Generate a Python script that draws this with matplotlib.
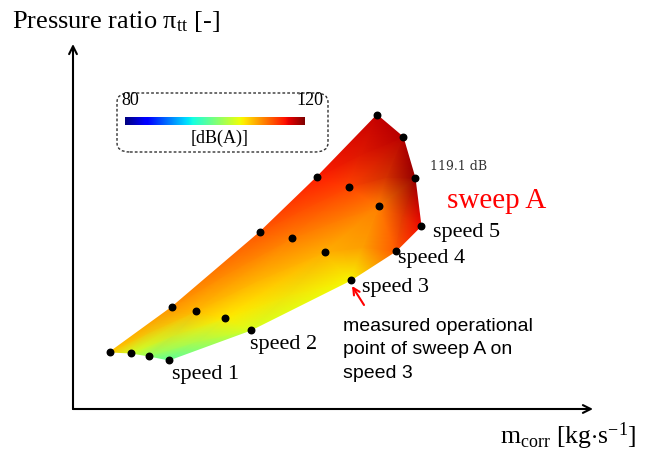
import numpy as np
import matplotlib
matplotlib.use('Agg')
from matplotlib import pyplot as plt
from matplotlib.patches import FancyBboxPatch

plt.rcParams['font.family'] = 'Liberation Serif'
plt.rcParams['mathtext.fontset'] = 'custom'
plt.rcParams['mathtext.rm'] = 'Liberation Serif'
plt.rcParams['mathtext.it'] = 'Liberation Serif:italic'

# operating points of sweep A (rows = speed lines 1..5, columns = points along the line)
m_corr = [
    [0.37, 0.58, 0.76, 0.96],
    [0.99, 1.23, 1.52, 1.78],
    [1.87, 2.19, 2.52, 2.78],
    [2.44, 2.76, 3.06, 3.23],
    [3.04, 3.30, 3.42, 3.48],
]
pi_tt = [
    [0.57, 0.56, 0.53, 0.49],
    [1.02, 0.98, 0.91, 0.79],
    [1.77, 1.71, 1.57, 1.29],
    [2.32, 2.22, 2.03, 1.58],
    [2.94, 2.72, 2.31, 1.83],
]
noise_db = [
    [108.0, 104.0, 101.0, 98.5],
    [110.0, 108.5, 106.5, 104.5],
    [112.5, 111.0, 109.0, 106.0],
    [115.0, 113.5, 111.0, 112.5],
    [117.5, 118.0, 119.1, 116.0],
]
speed_labels = ['speed 1', 'speed 2', 'speed 3', 'speed 4', 'speed 5']
speed_label_pos = [(0.99, 0.35), (1.77, 0.65), (2.89, 1.22), (3.25, 1.52), (3.60, 1.77)]

X = np.array(m_corr)
Y = np.array(pi_tt)
Z = np.array(noise_db)

fig = plt.figure(figsize=(6.46, 4.52), dpi=100)
ax = fig.add_axes([73 / 646, 42 / 452, 520 / 646, 365 / 452])
ax.set_xlim(0, 5.2)
ax.set_ylim(0, 3.65)
for s in ax.spines.values():
    s.set_visible(False)
ax.set_xticks([])
ax.set_yticks([])
ax.patch.set_alpha(0)

ax.pcolormesh(X, Y, Z, shading='gouraud', cmap='jet', vmin=80, vmax=120)
ax.scatter(X.ravel(), Y.ravel(), s=22, color='black', zorder=3)

# axes with arrows
ax.annotate('', xy=(0, 1), xytext=(0, 0), xycoords='axes fraction',
            arrowprops=dict(arrowstyle='->', lw=1.5, color='black', mutation_scale=14,
                            shrinkA=0, shrinkB=0),
            annotation_clip=False)
ax.annotate('', xy=(1, 0), xytext=(0, 0), xycoords='axes fraction',
            arrowprops=dict(arrowstyle='->', lw=1.5, color='black', mutation_scale=14,
                            shrinkA=0, shrinkB=0),
            annotation_clip=False)

for lab, (lx, ly) in zip(speed_labels, speed_label_pos):
    ax.text(lx, ly, lab, fontsize=16, va='center', ha='left')

ax.text(3.74, 2.09, 'sweep A', fontsize=21, color='red', va='center', ha='left')
ax.text(3.57, 2.43, '119.1 dB', fontsize=9, family='DejaVu Serif', color='#333333',
        va='center', ha='left')

ax.annotate('', xy=(2.79, 1.23), xytext=(2.91, 1.04),
            arrowprops=dict(arrowstyle='->', color='red', lw=1.5, mutation_scale=12,
                            shrinkA=0, shrinkB=0))
ax.text(2.70, 0.92, 'measured operational\npoint of sweep A on\nspeed 3', fontsize=14,
        family='Liberation Sans', va='top', ha='left', linespacing=1.5)

fig.text(12 / 646, 1 - 22 / 452, r'Pressure ratio π$_{\mathrm{tt}}$ [-]', fontsize=19,
         va='center', ha='left')
fig.text(500 / 646, 1 - 436 / 452, r'$\mathrm{m}_{\mathrm{corr}}$ [kg$\cdot$s$^{-1}$]',
         fontsize=18.5, va='center', ha='left')

# colour bar legend
cax = fig.add_axes([125 / 646, 1 - 126 / 452, 180 / 646, 8 / 452])
cax.imshow(np.linspace(0, 1, 256)[None, :], aspect='auto', cmap='jet')
cax.set_xticks([])
cax.set_yticks([])
for s in cax.spines.values():
    s.set_visible(False)
fig.text(121 / 646, 1 - 101 / 452, '80', fontsize=13, va='center', ha='left')
fig.text(323 / 646, 1 - 101 / 452, '120', fontsize=13, va='center', ha='right')
fig.text(220 / 646, 1 - 138 / 452, '[dB(A)]', fontsize=13, va='center', ha='center')
box = FancyBboxPatch((117 / 646, 1 - 153 / 452), 211 / 646, 59 / 452,
                     boxstyle='round,pad=0,rounding_size=0.02', transform=fig.transFigure,
                     fill=False, ls=(0, (2, 1.5)), lw=1, ec='#333333')
fig.patches.append(box)

plt.savefig('out.png', dpi=100)
